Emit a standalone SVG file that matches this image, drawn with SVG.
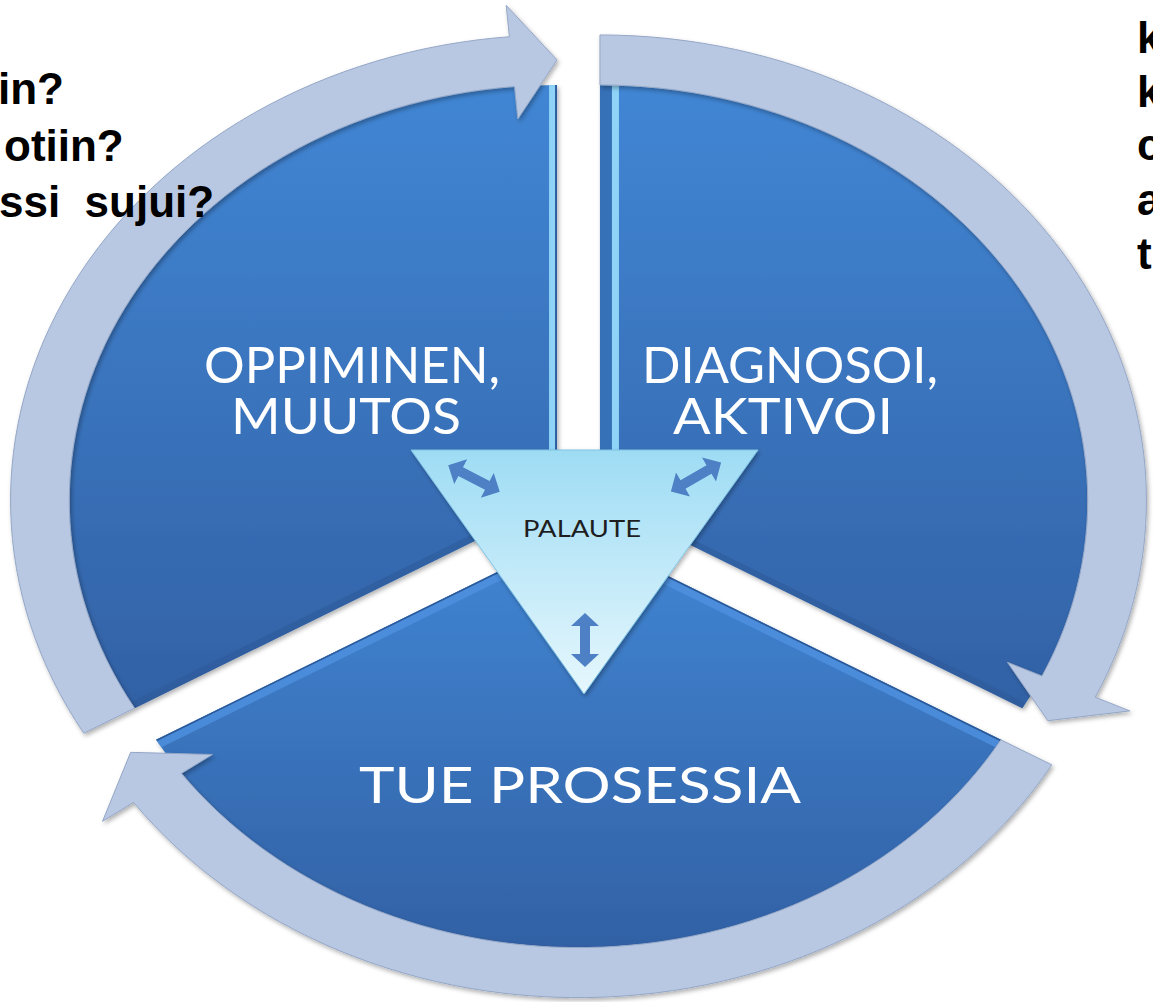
<svg xmlns="http://www.w3.org/2000/svg" width="1153" height="1002" viewBox="0 0 1153 1002">
  <style>
    .q { font-family: "Liberation Sans", Arial, sans-serif; font-weight: bold; font-size: 44px; fill: #000; }
    .lbl { font-family: Lato, "Open Sans", sans-serif; font-size: 50px; fill: #ffffff; }
    .pal { font-family: Lato, "Open Sans", sans-serif; font-size: 24px; fill: #1e1e1e; }
    .ring { fill: #b9c8e2; stroke: #94a7c7; stroke-width: 1; }
    .ns { vector-effect: non-scaling-stroke; fill: none; }
    .dbl { fill: #4d80c4; }
  </style>
  <defs>
    <linearGradient id="gSlice" x1="0" y1="0" x2="0" y2="1">
      <stop offset="0" stop-color="#4186d4"/>
      <stop offset="1" stop-color="#3261a5"/>
    </linearGradient>
    <linearGradient id="gTri" x1="0" y1="0" x2="0" y2="1">
      <stop offset="0" stop-color="#9edcf4"/>
      <stop offset="1" stop-color="#e6f7fd"/>
    </linearGradient>
    <filter id="sh" x="-10%" y="-10%" width="120%" height="120%">
      <feDropShadow dx="1.5" dy="2.5" stdDeviation="2" flood-color="#000" flood-opacity="0.3"/>
    </filter>
    <path id="pTL" d="M0,0 L0,-415.5 A415.5 415.5 0 0 0 -359.84,207.75 Z"/>
    <path id="pTR" d="M0,0 L359.84,207.75 A415.5 415.5 0 0 0 0,-415.5 Z"/>
    <path id="pB" d="M0,0 L-359.84,207.75 A415.5 415.5 0 0 0 359.84,207.75 Z"/>
    <clipPath id="cTL"><use href="#pTL"/></clipPath>
    <clipPath id="cTR"><use href="#pTR"/></clipPath>
    <clipPath id="cB"><use href="#pB"/></clipPath>
    <path id="dbl" d="M-29,0 L-15,-14 L-15,-5 L15,-5 L15,-14 L29,0 L15,14 L15,5 L-15,5 L-15,14 Z"/>
  </defs>

  <rect width="1153" height="1002" fill="#ffffff"/>

  <g transform="translate(578.5 511) scale(1.174 1)">
    <!-- slices -->
    <g id="slice-oppiminen" transform="translate(-18.27 -10.55)">
      <use href="#pTL" fill="url(#gSlice)" filter="url(#sh)"/>
      <g clip-path="url(#cTL)">
        <line class="ns" x1="0" y1="0" x2="0" y2="-415.5" stroke="#8fd4f7" stroke-width="16"/>
        <line class="ns" x1="0" y1="0" x2="0" y2="-415.5" stroke="#2d5d9f" stroke-width="4"/>
        <line class="ns" x1="0" y1="0" x2="-359.84" y2="207.75" stroke="#2b5896" stroke-width="14" stroke-opacity="0.5"/>
      </g>
    </g>
    <g id="slice-diagnosoi" transform="translate(18.27 -10.55)">
      <use href="#pTR" fill="url(#gSlice)" filter="url(#sh)"/>
      <g clip-path="url(#cTR)">
        <line class="ns" x1="0" y1="0" x2="0" y2="-415.5" stroke="#8fd4f7" stroke-width="38"/>
        <line class="ns" x1="0" y1="0" x2="0" y2="-415.5" stroke="#3670b7" stroke-width="24"/>
        <line class="ns" x1="0" y1="0" x2="359.84" y2="207.75" stroke="#2b5896" stroke-width="12" stroke-opacity="0.5"/>
      </g>
    </g>
    <g id="slice-tue" transform="translate(0 21.1)">
      <use href="#pB" fill="url(#gSlice)" filter="url(#sh)"/>
      <g clip-path="url(#cB)">
        <line class="ns" x1="0" y1="0" x2="-359.84" y2="207.75" stroke="#4f91e0" stroke-width="18" stroke-opacity="0.8"/>
        <line class="ns" x1="0" y1="0" x2="359.84" y2="207.75" stroke="#4f91e0" stroke-width="18" stroke-opacity="0.8"/>
        <line class="ns" x1="0" y1="0" x2="-359.84" y2="207.75" stroke="#2b5896" stroke-width="3"/>
        <line class="ns" x1="0" y1="0" x2="359.84" y2="207.75" stroke="#2b5896" stroke-width="3"/>
      </g>
    </g>

    <!-- cycle arrows (connectors) -->
    <g id="connectors">
      <path class="ring" vector-effect="non-scaling-stroke" filter="url(#sh)" transform="translate(-18.27 -10.55)"
        d="M-403.13,232.75 A465.5 465.5 0 0 1 -40.57,-463.73 L-43.32,-495.11 L0,-440.5 L-33.38,-381.54 L-36.21,-413.92 A415.5 415.5 0 0 0 -359.84,207.75 Z"/>
      <path class="ring" vector-effect="non-scaling-stroke" filter="url(#sh)" transform="translate(18.27 -10.55)"
        d="M0,-465.5 A465.5 465.5 0 0 1 421.89,196.73 L451.34,210.46 L381.48,220.25 L347.12,161.86 L376.57,175.60 A415.5 415.5 0 0 0 0,-415.5 Z"/>
      <path class="ring" vector-effect="non-scaling-stroke" filter="url(#sh)" transform="translate(0 21.1)"
        d="M403.13,232.75 A465.5 465.5 0 0 1 -378.97,270.32 L-405.43,289.19 L-381.48,220.25 L-311.81,222.41 L-338.27,241.28 A415.5 415.5 0 0 0 359.84,207.75 Z"/>
    </g>
  </g>

  <!-- questions (clipped at canvas edges), drawn over the ring -->
  <g id="questions-left">
    <text class="q" x="-2" y="104">in?</text>
    <text class="q" x="4" y="161">otiin?</text>
    <text class="q" x="-1" y="217" xml:space="preserve">ssi  sujui?</text>
  </g>
  <g id="questions-right">
    <text class="q" x="1137" y="53">k</text>
    <text class="q" x="1137" y="107">k</text>
    <text class="q" x="1137" y="160">c</text>
    <text class="q" x="1137" y="215">a</text>
    <text class="q" x="1137" y="269">t</text>
  </g>

  <!-- slice labels -->
  <g id="label-oppiminen">
    <text class="lbl" x="352" y="383" text-anchor="middle" textLength="296" lengthAdjust="spacingAndGlyphs">OPPIMINEN,</text>
    <text class="lbl" x="346" y="434" text-anchor="middle" textLength="230" lengthAdjust="spacingAndGlyphs">MUUTOS</text>
  </g>
  <g id="label-diagnosoi">
    <text class="lbl" x="790" y="383" text-anchor="middle" textLength="296" lengthAdjust="spacingAndGlyphs">DIAGNOSOI,</text>
    <text class="lbl" x="783" y="434" text-anchor="middle" textLength="220" lengthAdjust="spacingAndGlyphs">AKTIVOI</text>
  </g>
  <g id="label-tue">
    <text class="lbl" x="580" y="803" text-anchor="middle" textLength="442" lengthAdjust="spacingAndGlyphs">TUE PROSESSIA</text>
  </g>

  <!-- feedback triangle -->
  <g id="palaute">
    <polygon points="411,450 758,450 584,694" fill="url(#gTri)" stroke="#7fc3e4" stroke-width="1" filter="url(#sh)"/>
    <use href="#dbl" class="dbl" transform="translate(474 478.5) rotate(27.4)"/>
    <use href="#dbl" class="dbl" transform="translate(696 477) rotate(-30)"/>
    <use href="#dbl" class="dbl" transform="translate(585 640) rotate(90) scale(0.93 1)"/>
    <text class="pal" x="582" y="537" text-anchor="middle" textLength="118" lengthAdjust="spacingAndGlyphs">PALAUTE</text>
  </g>
</svg>
